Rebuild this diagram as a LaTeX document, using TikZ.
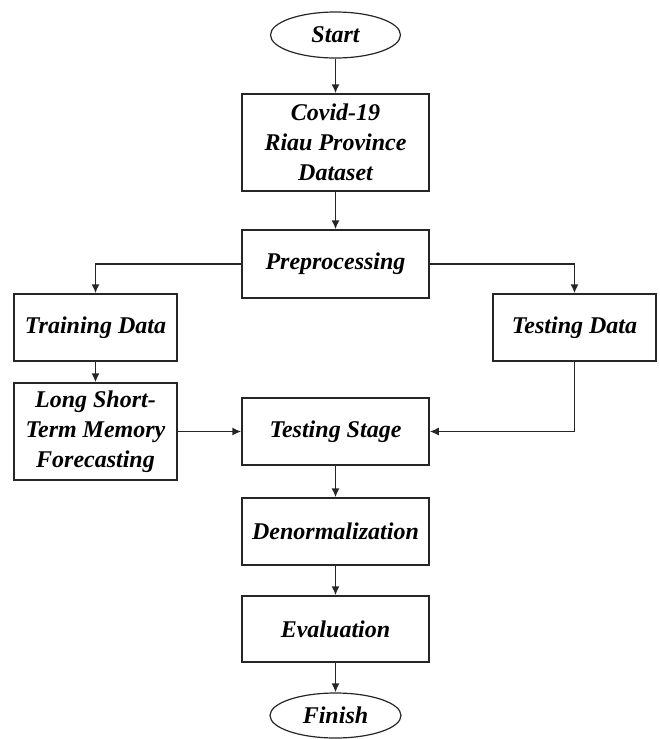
\documentclass[tikz,border=0pt]{standalone}
\usepackage{fontspec}
\setmainfont{Liberation Serif}
\usetikzlibrary{shapes.geometric,arrows.meta}
\begin{document}
\begin{tikzpicture}[x=1pt,y=-1pt,
  every node/.style={font=\fontsize{24}{30}\selectfont\bfseries\itshape, align=center, inner sep=0pt},
  box/.style={draw=black!85, line width=1.5pt, rectangle},
  term/.style={draw=black!85, line width=1.2pt, ellipse},
  conn/.style={draw=black!85, line width=1.5pt, -{Latex[length=9pt,width=8pt]}}]
\useasboundingbox (0,0) rectangle (659,739);
\node[term, minimum width=130pt, minimum height=46pt] (start) at (335.5,35) {Start};
\node[box, minimum width=187pt, minimum height=97pt] (covid) at (335.5,142.5) {Covid-19\\Riau Province\\Dataset};
\node[box, minimum width=187pt, minimum height=68pt] (pre) at (335.5,264) {Preprocessing};
\node[box, minimum width=163pt, minimum height=67pt] (train) at (95.5,327.5) {Training Data};
\node[box, minimum width=163pt, minimum height=67pt] (testd) at (574.5,327.5) {Testing Data};
\node[box, minimum width=163pt, minimum height=97pt] (lstm) at (95.5,431.5) {Long Short-\\Term Memory\\Forecasting};
\node[box, minimum width=187pt, minimum height=67pt] (stage) at (335.5,431.5) {Testing Stage};
\node[box, minimum width=187pt, minimum height=67pt] (denorm) at (335.5,531.5) {Denormalization};
\node[box, minimum width=187pt, minimum height=66pt] (eval) at (335.5,629) {Evaluation};
\node[term, minimum width=131pt, minimum height=45pt] (finish) at (335.5,715.5) {Finish};
\draw[conn] (start) -- (covid);
\draw[conn] (covid) -- (pre);
\draw[conn] (pre.west) -| (train.north);
\draw[conn] (pre.east) -| (testd.north);
\draw[conn] (train) -- (lstm);
\draw[conn] (lstm.east) -- (stage.west);
\draw[conn] (testd.south) |- (stage.east);
\draw[conn] (stage) -- (denorm);
\draw[conn] (denorm) -- (eval);
\draw[conn] (eval) -- (finish);
\end{tikzpicture}
\end{document}
